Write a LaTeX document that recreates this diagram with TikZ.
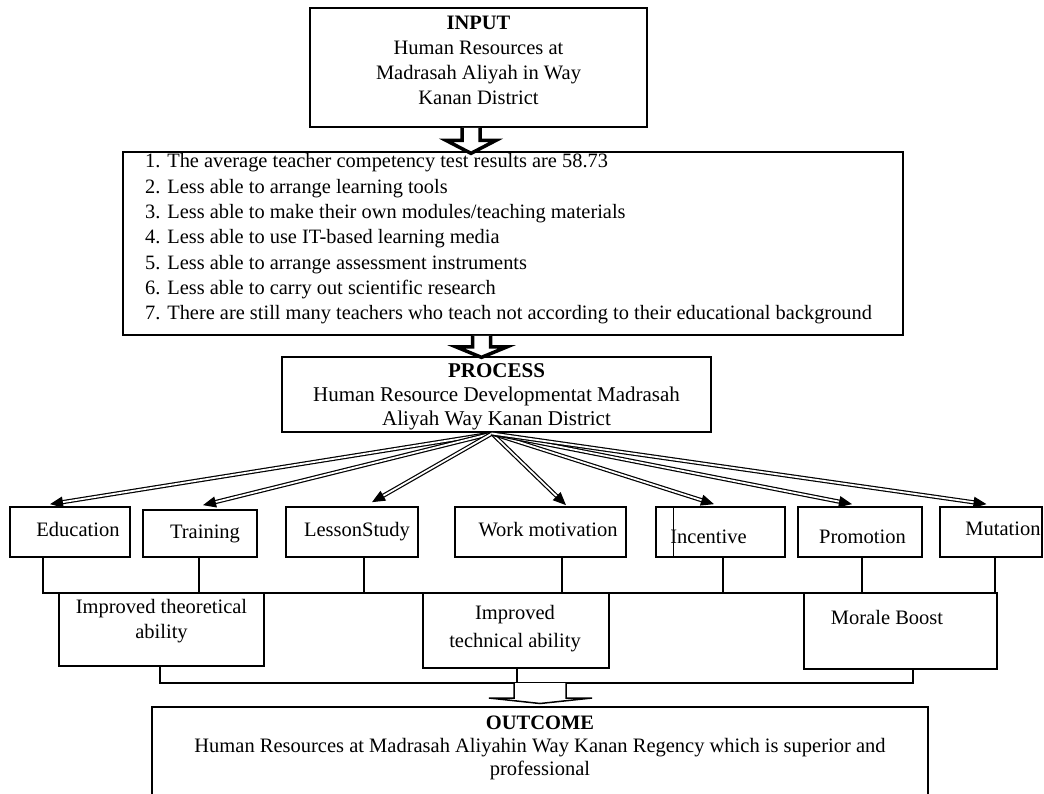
\documentclass[tikz,border=0pt]{standalone}
\usepackage{fontspec}
\setmainfont{Liberation Serif}
\usetikzlibrary{arrows.meta,calc}
\begin{document}
\begin{tikzpicture}[x=1pt,y=-1pt,
  box/.style={draw, line width=1.7pt, inner sep=0pt},
  txt/.style={inner sep=0pt, font=\fontsize{20.5}{25}\selectfont, align=center},
  dbl/.style={double, double distance=1.8pt, line width=1.2pt, -{Triangle[length=13pt,width=11pt]}},
  bus/.style={line width=1.5pt},
  blockarrow/.style={draw, line width=3.5pt, fill=white, line join=miter},
  thinarrow/.style={draw, line width=1.5pt, fill=white, line join=miter}
]
\useasboundingbox (0,0) rectangle (1044,793);
\clip (0,0) rectangle (1044,793);

% main boxes
\node[box, minimum width=337pt, minimum height=119pt] (input) at (478.5,67.5) {};
\node[txt] (inputtxt) at (478.5,60) {\textbf{INPUT}\\Human Resources at\\Madrasah Aliyah in Way\\Kanan District};

\node[box, minimum width=780pt, minimum height=183pt] (list) at (513,243.5) {};
\node[txt, align=left, anchor=north west, font=\fontsize{20.4}{25.3}\selectfont] (listtxt) at (145,153.5) {%
1. The average teacher competency test results are 58.73\\
2. Less able to arrange learning tools\\
3. Less able to make their own modules/teaching materials\\
4. Less able to use IT-based learning media\\
5. Less able to arrange assessment instruments\\
6. Less able to carry out scientific research\\
7. There are still many teachers who teach not according to their educational background};

\node[box, minimum width=429pt, minimum height=75pt] (process) at (496.5,394.5) {};
\node[txt, font=\fontsize{21}{24}\selectfont] (processtxt) at (496.5,396.5) {\textbf{PROCESS}\\Human Resource Developmentat Madrasah\\Aliyah Way Kanan District};

% block arrows
\draw[blockarrow] ([xshift=-16.5pt]input.south) -- ++(0,12.5) -- ++(-16,0) -- ++(25,13) -- ++(25,-13) -- ++(-16,0) -- ++(0,-12.5);
\draw[blockarrow] ([xshift=-40.5pt]list.south) -- ++(0,11) -- ++(-16.5,0) -- ++(25.5,10.5) -- ++(25.5,-10.5) -- ++(-16.5,0) -- ++(0,-11);

% activity boxes
\node[box, minimum width=120pt, minimum height=50pt] (edu) at (70,532) {};
\node[box, minimum width=114pt, minimum height=47pt] (trn) at (200,533.5) {};
\node[box, minimum width=132pt, minimum height=50pt] (ls) at (352,532) {};
\node[box, minimum width=171pt, minimum height=50pt] (wm) at (540.5,532) {};
\node[box, minimum width=129pt, minimum height=50pt] (inc) at (720.5,532) {};
\node[box, minimum width=124pt, minimum height=50pt] (pro) at (860,532) {};
\node[box, minimum width=102pt, minimum height=50pt] (mut) at (991,532) {};
\draw[line width=0.8pt] ([xshift=18pt]inc.north west) -- ([xshift=18pt]inc.south west);

\node[txt, anchor=base] (edutxt) at (78,536) {Education};
\node[txt, anchor=base] (trntxt) at (205,538.5) {Training};
\node[txt, anchor=base] (lstxt) at (357,536) {LessonStudy};
\node[txt, anchor=base] (wmtxt) at (548,536) {Work motivation};
\node[txt, anchor=base] (inctxt) at (708.5,543) {Incentive};
\node[txt, anchor=base] (protxt) at (862.5,543) {Promotion};
\node[txt, anchor=base] (muttxt) at (1003,535.5) {Mutation};

% fan of double arrows
\coordinate (fan) at (492,433.5);
\draw[dbl] (fan) -- ([xshift=-20pt,yshift=2pt]edu.north);
\draw[dbl] (fan) -- ([xshift=3pt,yshift=4pt]trn.north);
\draw[dbl] (fan) -- ([xshift=20pt,yshift=4pt]ls.north);
\draw[dbl] (fan) -- ([xshift=25.5pt,yshift=1pt]wm.north);
\draw[dbl] (fan) -- ([xshift=-6.5pt,yshift=2pt]inc.north);
\draw[dbl] (fan) -- ([xshift=-8pt,yshift=2pt]pro.north);
\draw[dbl] (fan) -- ([xshift=-4.5pt,yshift=2pt]mut.north);

% upper bus
\coordinate (busL) at (43,593);
\coordinate (busR) at (995,593);
\draw[bus] (busL) -- (busR);
\draw[bus] ([xshift=-27pt]edu.south) -- ++(0,36);
\draw[bus] ([xshift=-1pt]trn.south) -- ++(0,36);
\draw[bus] ([xshift=12pt]ls.south) -- ++(0,36);
\draw[bus] ([xshift=21.5pt]wm.south) -- ++(0,36);
\draw[bus] ([xshift=2.5pt]inc.south) -- ++(0,36);
\draw[bus] ([xshift=2pt]pro.south) -- ++(0,36);
\draw[bus] ([xshift=4pt]mut.south) -- ++(0,36);

% result boxes
\node[box, minimum width=205pt, minimum height=73pt] (theo) at (161.5,629.5) {};
\node[txt, anchor=north] (theotxt) at (161.5,599.5) {Improved theoretical\\ability};
\node[box, minimum width=186pt, minimum height=75pt] (tech) at (516,630.5) {};
\node[txt, anchor=north, font=\fontsize{20.5}{28}\selectfont] (techtxt) at (515,605.5) {Improved\\technical ability};
\node[box, minimum width=193pt, minimum height=76pt] (mor) at (900.5,631) {};
\node[txt, anchor=base] (mortxt) at (887,624) {Morale Boost};

% lower bus
\coordinate (bus2L) at (160,683);
\coordinate (bus2R) at (913,683);
\draw[bus] (bus2L) -- (bus2R);
\draw[bus] ([xshift=-1.5pt]theo.south) -- ++(0,17);
\draw[bus] ([xshift=1pt]tech.south) -- ++(0,15);
\draw[bus] ([xshift=12.5pt]mor.south) -- ++(0,14);

% outcome
\node[box, minimum width=776pt, minimum height=120pt] (outcome) at (540,767) {};
\node[txt, anchor=north, font=\fontsize{20.5}{23}\selectfont] (outtxt) at (540,715.5) {\textbf{OUTCOME}\\Human Resources at Madrasah Aliyahin Way Kanan Regency which is superior and\\professional};

\draw[thinarrow] ([xshift=-26pt]outcome.north |- bus2L) -- ++(0,15) -- ++(-25,0) -- ++(51,5.5) -- ++(52,-5.5) -- ++(-26,0) -- ++(0,-15);
\end{tikzpicture}
\end{document}
